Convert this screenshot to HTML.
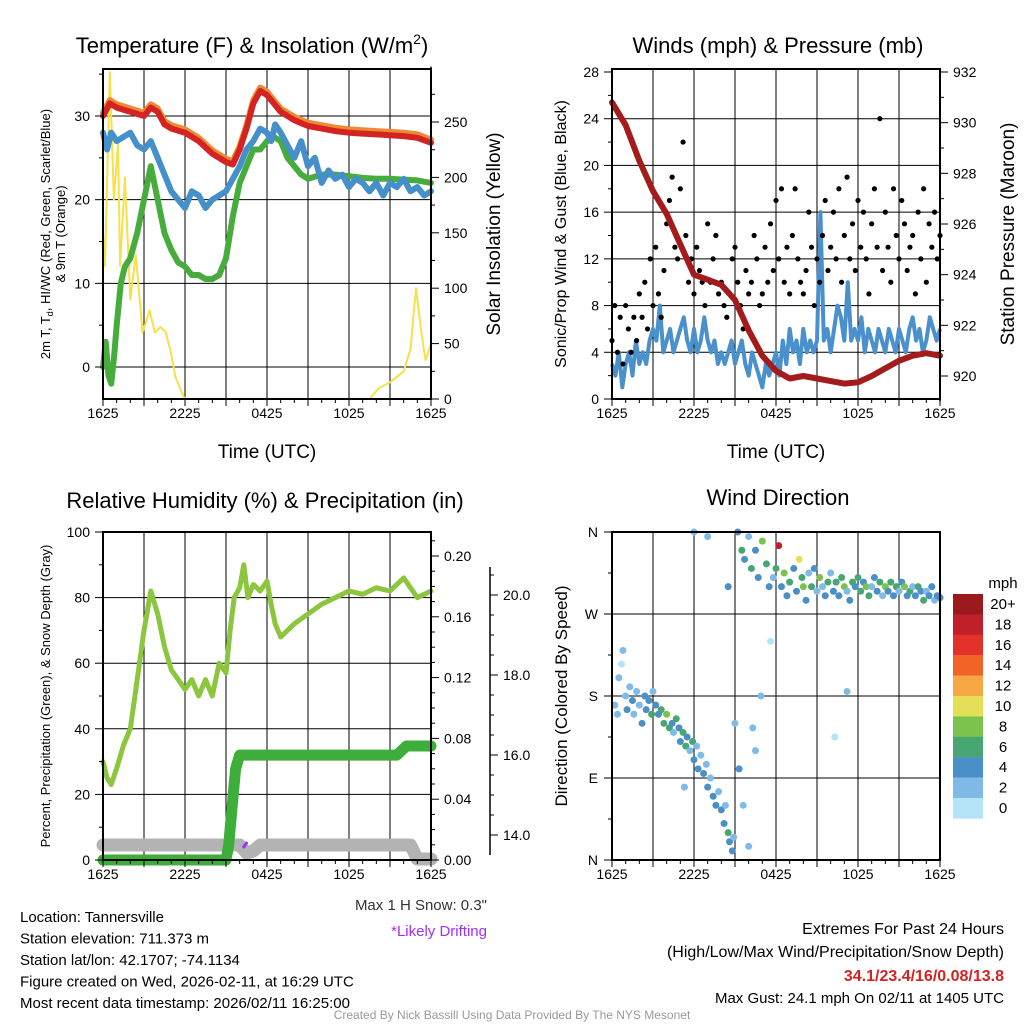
<!DOCTYPE html>
<html><head><meta charset="utf-8"><style>
body{margin:0;background:#fff}
svg{display:block;font-family:"Liberation Sans",Arial,sans-serif}
</style></head><body>
<svg id="s" width="1024" height="1024" viewBox="0 0 1024 1024" xmlns="http://www.w3.org/2000/svg">
<rect width="1024" height="1024" fill="#fff"/>
<g id="g"></g>
</svg>
<script>
// ---------- DATA ----------
const xTickLabels = ["1625","2225","0425","1025","1625"];
// Panel 1 (hours since 1625 UTC)
const tempT  = [0,0.5,1,2,3,3.5,4,4.5,5,6,7,8,9,9.5,10,10.5,11,11.5,12,12.5,13,14,15,16,17,18,19,20,21,22,23,24];
const tempV  = [30,31.5,31,30.5,30,31,30.5,29,28.5,28,27,25.5,24.5,24.2,26,28.5,31.5,33,32.5,31.5,30.5,29.5,28.8,28.5,28.2,28,27.9,27.8,27.7,27.6,27.4,26.8];
const wcT    = [0,0.3,0.6,1,1.5,2,2.5,3,3.5,4,4.5,5,5.5,6,6.5,7,7.5,8,8.5,9,9.5,10,10.5,11,11.5,12,12.3,12.6,13,13.5,14,14.5,15,15.5,16,16.5,17,17.5,18,18.5,19,19.5,20,20.5,21,21.5,22,22.5,23,23.5,24];
const wcV    = [28,26,28,27,27.5,28,26.5,26,27,25,23,21,20,19,21,20.5,19,20,20.5,21,22.5,24,26,27,28.5,28,27,29,28,26.5,25,27,24,25,22,23.5,22.5,23,21.5,22.5,22,21,22,20.5,22,21.5,22.5,21,21.5,20.5,21];
const tdT    = [0,0.2,0.4,0.6,0.8,1,1.3,1.6,2,2.5,3,3.5,4,4.5,5,5.5,6,6.5,7,7.5,8,8.5,9,9.5,10,10.5,11,11.5,12,12.5,13,13.5,14,14.5,15,16,17,18,19,20,21,22,23,24];
const tdV    = [0,3,-1,-2,1,5,10,12,13,16,20,24,20,16,14,12.5,12,11,11,10.5,10.5,11,13,18,22,24,26,26,27,27.5,27,25,24,23,22.5,23,23,22.8,22.6,22.5,22.5,22.4,22.3,22];
const solT   = [0,0.15,0.5,0.8,1.1,1.25,1.6,2.0,2.4,2.9,3.4,3.8,4.2,4.6,5.0,5.3,5.8,6.0,19.5,20.2,21.0,22.0,22.5,22.9,23.3,23.6,24];
const solV   = [150,120,295,180,230,120,200,90,130,60,80,60,65,60,40,20,5,0,0,10,15,25,45,100,60,35,50];
// Panel 2
const windV  = [3,2,4,1,3,4,2,5,3,4,3,5, 6,5,8,4,5,6,4,5,6,7,5,4, 6,4,5,7,5,4,5,3,4,3,4,5, 3,4,5,3,2,4,3,2,1,3,2,3, 4,2,5,3,6,4,5,3,6,4,5,4, 5,16,5,6,4,6,8,7,5,10,5,6, 5,7,4,6,5,4,6,5,4,6,5,4, 6,5,4,6,7,5,6,4,5,7,6,5, 6];
const gustV  = [5,8,4,7,3,8,6,4,7,5, 9,7,10,6,12,8,13,9,7,11, 15,17,19,13,12,18,22,14,10,12, 9,13,11,10,8,15,10,12,14,9, 10,8,7,9,12,13,10,8,6,11, 9,10,14,12,8,9,13,10,15,11, 17,12,18,10,13,9,14,18,12,10, 9,11,16,13,8,12,10,14,17,11, 13,16,12,18,10,14,19,12,15,11, 17,13,16,12,9,15,18,13,24,11, 16,13,10,18,14,12,17,15,11,13, 14,9,16,12,18,10,15,13,16,12, 14];
const presT  = [0,1,2,3,4,5,6,7,8,9,10,11,12,13,14,15,16,17,18,19,20,21,22,23,24];
const presV  = [930.8,929.9,928.5,927.3,926.4,925.2,924.0,923.8,923.6,923.0,921.8,920.8,920.2,919.9,920.0,919.9,919.8,919.7,919.75,920.0,920.3,920.6,920.8,920.9,920.8];
// Panel 3
const rhT    = [0,0.3,0.6,1,1.5,2,2.5,3,3.5,4,4.5,5,5.5,6,6.5,7,7.5,8,8.5,9,9.3,9.6,10,10.3,10.6,11,11.5,12,12.3,12.6,13,14,15,16,17,18,19,20,21,22,23,24];
const rhV    = [30,25,23,28,35,40,55,70,82,75,65,58,55,52,55,50,55,50,60,57,70,80,83,90,80,84,82,85,78,72,68,72,75,78,80,82,81,83,82,86,80,82];
const prT    = [0,9,9.2,9.5,9.7,10,21.5,22.2,24];
const prV    = [0,0,0.01,0.04,0.06,0.069,0.069,0.075,0.075];
const snT    = [0,10,10.5,11,11.5,22.5,23,24];
const snV    = [13.75,13.75,13.55,13.6,13.75,13.75,13.4,13.4];
// Panel 4
const dT = [0.2,0.4,0.5,0.7,0.8,1.0,1.1,1.3,1.5,1.6,1.8,2.0,2.2,2.4,2.5,2.7,2.9,3.0,3.2,3.4,3.6,3.8,4.0,4.2,4.4,4.5,4.7,4.9,5.0,5.2,5.4,5.5,5.7,5.9,6.0,6.2,6.3,6.5,6.7,6.9,7.0,7.2,7.4,7.6,7.8,8.0,8.2,8.3,8.5,8.6,8.8,8.9,5.3,6.0,7.0,8.5,9.0,9.2,9.5,9.7,10.0,10.2,10.5,10.7,10.9,11.0,11.3,11.5,11.8,12.0,12.2,12.4,12.6,12.8,13.0,13.3,13.5,13.7,13.9,14.0,14.2,14.4,14.6,14.8,15.0,15.2,15.4,15.6,15.8,16.0,16.2,16.4,16.6,16.8,17.0,17.2,17.4,17.6,17.8,18.0,18.2,18.4,18.6,18.8,19.0,19.2,19.4,19.6,19.8,20.0,20.2,20.4,20.6,20.8,21.0,21.2,21.4,21.6,21.8,22.0,22.2,22.4,22.6,22.8,23.0,23.2,23.4,23.6,23.8,24.0,17.2,16.3,11.6,10.3,10.5,9.6,10.0,9.3];
const dD = [170,160,200,215,230,180,165,190,175,160,185,170,150,180,165,175,160,185,170,160,165,150,160,145,150,140,155,145,130,140,125,135,120,130,110,125,100,115,95,105,80,90,70,60,75,55,40,60,30,20,10,25,80,360,355,300,150,360,340,330,355,320,340,310,180,350,325,300,310,320,345,300,315,290,305,320,295,330,310,300,285,315,300,320,295,310,300,290,305,315,295,305,290,310,300,295,285,305,300,310,295,305,300,290,300,310,295,305,290,300,295,305,290,300,295,305,300,290,295,300,290,300,295,285,295,290,300,285,290,288,185,135,240,145,120,60,15,100];
const dS = [3,2,3,1,2,3,4,3,4,3,2,3,4,5,4,5,6,3,4,5,7,6,8,6,5,3,6,5,4,6,7,4,3,6,4,3,4,2,4,3,4,3,5,4,3,4,4,3,6,4,5,3,2,3,2,4,3,4,6,4,2,6,5,4,3,8,6,4,3,6,18,5,8,4,6,5,4,10,6,8,4,3,6,4,3,8,2,4,6,3,5,7,4,6,8,3,5,7,4,6,7,4,8,6,3,5,4,6,3,8,5,7,4,6,3,5,8,4,6,3,5,7,4,6,3,5,4,3,5,4,3,1,1,2,3,3,2,4];
const speedLabels = ["20+","18","16","14","12","10","8","6","4","2","0"];
const speedColors = ["#b5e3f7","#7fbbe6","#4a8fc8","#48a672","#7cc24e","#e5df57","#f7a844","#f16428","#e2322a","#c0202a","#9a1a1e"];

// ---------- HELPERS ----------
const NS="http://www.w3.org/2000/svg";
const G=document.getElementById('g');
function mk(tag,attrs,parent){const e=document.createElementNS(NS,tag);for(const k in attrs)e.setAttribute(k,attrs[k]);(parent||G).appendChild(e);return e;}
function txt(s,x,y,size,anchor,parent,extra){const e=mk('text',Object.assign({x:x,y:y,'font-size':size,'text-anchor':anchor||'middle',fill:'#000'},extra||{}),parent);e.textContent=s;return e;}
function lin(d0,d1,r0,r1){return v=>r0+(v-d0)*(r1-r0)/(d1-d0);}
function pathOf(ts,vs,fx,fy){return ts.map((t,i)=>(i?'L':'M')+fx(t).toFixed(1)+','+fy(vs[i]).toFixed(1)).join('');}

function panel(name){
  const g=mk('g',{});
  
  
  return g;
}
function frame(g,x0,y0,x1,y1,hGrid,vGrid){
  const gg=mk('g',{stroke:'#000','stroke-width':1},g);
  
  
  hGrid.forEach(y=>mk('line',{x1:x0,x2:x1,y1:y,y2:y},gg));
  vGrid.forEach(x=>mk('line',{x1:x,x2:x,y1:y0,y2:y1},gg));
}
function border(g,x0,y0,x1,y1){
  const r=mk('rect',{x:x0,y:y0,width:x1-x0,height:y1-y0,fill:'none',stroke:'#000','stroke-width':2},g);
  
  
}
function xAxis(g,x0,x1,y1){
  const fx=lin(0,24,x0,x1);
  for(let h=0;h<=24;h++){const x=fx(h);mk('line',{x1:x,x2:x,y1:y1,y2:y1+(h%3==0?7:4),stroke:'#000','stroke-width':1},g);}
  xTickLabels.forEach((l,i)=>{const t=txt(l,fx(i*6),y1+19,14,'middle',g);
    
    });
}
function yTicks(g,x,vals,fy,labels,side,minor,fmt){
  const dir=side==='left'?-1:1;
  mk('line',{x1:x,x2:x,y1:fy(vals[0]),y2:fy(vals[vals.length-1]),stroke:'#000','stroke-width':1.5},g);
  (minor||[]).forEach(v=>mk('line',{x1:x,x2:x+dir*4,y1:fy(v),y2:fy(v),stroke:'#000','stroke-width':1},g));
  labels.forEach(v=>{const y=fy(v);mk('line',{x1:x,x2:x+dir*8,y1:y,y2:y,stroke:'#000','stroke-width':1},g);
    const t=txt(fmt?fmt(v):String(v),x+dir*13,y+5,14,side==='left'?'end':'start',g);
    
    });
}
function range(a,b,s){const r=[];for(let v=a;v<=b+1e-9;v+=s)r.push(+v.toFixed(4));return r;}

// ---------- PANEL 1 ----------
(function(){
  const x0=103,x1=431,y0=69,y1=399;
  const g=panel('temperature-panel');
  const fx=lin(0,24,x0,x1), fy=lin(0,30,367,116), fs=lin(0,250,399,122);
  frame(g,x0,y0,x1,y1,[0,10,20,30].map(fy),range(3,21,3).map(fx));
  const t=txt('Temperature (F) & Insolation (W/m',252,53,22,'middle',g);
  
  const sup=mk('tspan',{'font-size':14,dy:-9},t);sup.textContent='2';
  const cl=mk('tspan',{dy:9},t);cl.textContent=')';
  const p=(ts,vs,fyy,col,w,nm)=>{const e=mk('path',{d:pathOf(ts,vs,fx,fyy),fill:'none',stroke:col,'stroke-width':w,'stroke-linejoin':'round','stroke-linecap':'round'},g);
    };
  p(solT,solV,fs,'#f6e04b',2,'solar-insolation-line');
  p(tdT,tdV,fy,'#46ad3d',6,'dewpoint-line');
  p(tempT,tempV.map(v=>v+0.4),fy,'#f08a30',6,'9m-temperature-line');
  p(tempT,tempV,fy,'#d42323',6,'2m-temperature-line');
  p(wcT,wcV,fy,'#4590ca',6,'wind-chill-line');
  border(g,x0,y0,x1,y1);
  xAxis(g,x0,x1,y1);
  yTicks(g,x0,[-3.8,35.6],fy,[0,10,20,30],'left',[-5,5,15,25,35].filter(v=>v>-3.8));
  yTicks(g,x1,[0,300],fs,[0,50,100,150,200,250],'right',range(25,275,50));
  const a=txt('Time (UTC)',267,458,19,'middle',g);
  const l1=txt('2m T, T',0,0,13,'middle',g,{transform:'translate(50,234) rotate(-90)'});
  const sb=mk('tspan',{'font-size':9,dy:3},l1);sb.textContent='d';
  const sb2=mk('tspan',{dy:-3},l1);sb2.textContent=', HI/WC (Red, Green, Scarlet/Blue)';
  
  const l2=txt('& 9m T (Orange)',0,0,13,'middle',g,{transform:'translate(65,234) rotate(-90)'});
  
  const r=txt('Solar Insolation (Yellow)',0,0,19,'middle',g,{transform:'translate(500,234) rotate(-90)'});
  
})();

// ---------- PANEL 2 ----------
(function(){
  const x0=612,x1=940,y0=69,y1=399;
  const g=panel('winds-panel');
  const fx=lin(0,24,x0,x1), fy=lin(0,28,399,72), fp=lin(920,932,376,72);
  frame(g,x0,y0,x1,y1,range(4,24,4).map(fy),range(3,21,3).map(fx));
  const t=txt('Winds (mph) & Pressure (mb)',778,53,22,'middle',g);
  
  const wt=windV.map((v,i)=>i*0.25);
  const w=mk('path',{d:pathOf(wt,windV,fx,fy),fill:'none',stroke:'#4a90cd','stroke-width':4,'stroke-linejoin':'round'},g);
  
  gustV.forEach((v,i)=>{const c=mk('circle',{cx:fx(i*0.2),cy:fy(v),r:2.6,fill:'#000'},g);
    });
  const pr=mk('path',{d:pathOf(presT,presV,fx,fp),fill:'none',stroke:'#a41b1b','stroke-width':6,'stroke-linejoin':'round','stroke-linecap':'round'},g);
  
  border(g,x0,y0,x1,y1);
  xAxis(g,x0,x1,y1);
  yTicks(g,x0,[0,28],fy,range(0,28,4),'left',range(2,26,4));
  yTicks(g,x1,[919,932],fp,range(920,932,2),'right',range(921,931,2));
  const a=txt('Time (UTC)',776,458,19,'middle',g);
  const l=txt('Sonic/Prop Wind & Gust (Blue, Black)',0,0,16,'middle',g,{transform:'translate(566,234) rotate(-90)'});
  
  const r=txt('Station Pressure (Maroon)',0,0,19,'middle',g,{transform:'translate(1014,234) rotate(-90)'});
  
})();

// ---------- PANEL 3 ----------
(function(){
  const x0=103,x1=431,y0=532,y1=860;
  const g=panel('humidity-panel');
  const fx=lin(0,24,x0,x1), fy=lin(0,100,860,532), fpr=lin(0,0.2,860,556), fsn=lin(14,20,835,595);
  frame(g,x0,y0,x1,y1,range(20,80,20).map(fy),range(3,21,3).map(fx));
  const t=txt('Relative Humidity (%) & Precipitation (in)',265,508,22,'middle',g);
  
  const sn=mk('path',{d:pathOf(snT,snV,fx,fsn),fill:'none',stroke:'#b3b3b3','stroke-width':13,'stroke-linejoin':'round','stroke-linecap':'round'},g);
  
  const pr=mk('path',{d:pathOf(prT,prV,fx,fpr),fill:'none',stroke:'#3eae3a','stroke-width':11,'stroke-linejoin':'round','stroke-linecap':'round'},g);
  
  const rh=mk('path',{d:pathOf(rhT,rhV,fx,fy),fill:'none',stroke:'#8cc63f','stroke-width':5,'stroke-linejoin':'round','stroke-linecap':'round'},g);
  
  const pu=mk('line',{x1:fx(10.3),x2:fx(10.5),y1:fsn(13.7),y2:fsn(13.8),stroke:'#9b30ff','stroke-width':3,'stroke-linecap':'round'},g);
  
  border(g,x0,y0,x1,y1);
  xAxis(g,x0,x1,y1);
  yTicks(g,x0,[0,100],fy,range(0,100,20),'left',range(10,90,20));
  yTicks(g,x1,[0,0.216],fpr,range(0,0.2,0.04),'right',range(0.01,0.21,0.01).filter(v=>Math.round(v*100)%4),v=>v.toFixed(2));
  yTicks(g,490,[13.5,20.7],fsn,range(14,20,2),'right',range(14.5,20.5,0.5).filter(v=>v%2),v=>v.toFixed(1));
  const l=txt('Percent, Precipitation (Green), & Snow Depth (Gray)',0,0,13,'middle',g,{transform:'translate(50,696) rotate(-90)'});
  
  const m=txt('Max 1 H Snow: 0.3"',487,910,15,'end',g,{fill:'#333'});
  const d=txt('*Likely Drifting',487,936,15,'end',g,{fill:'#9b30ff'});
})();

// ---------- PANEL 4 ----------
(function(){
  const x0=612,x1=940,y0=532,y1=860;
  const g=panel('wind-direction-panel');
  const fx=lin(0,24,x0,x1), fy=lin(0,360,860,532);
  frame(g,x0,y0,x1,y1,[90,180,270].map(fy),range(3,21,3).map(fx));
  const t=txt('Wind Direction',778,505,22,'middle',g);
  
  dT.forEach((tt,i)=>{const b=Math.min(10,Math.floor(dS[i]/2));
    const c=mk('circle',{cx:fx(tt),cy:fy(dD[i]),r:3.5,fill:speedColors[b]},g);
    });
  border(g,x0,y0,x1,y1);
  xAxis(g,x0,x1,y1);
  const dl=['N','E','S','W','N'];
  mk('line',{x1:x0,x2:x0,y1:y0,y2:y1,stroke:'#000','stroke-width':1.5},g);
  range(0,360,45).forEach(v=>mk('line',{x1:x0,x2:x0-(v%90?4:8),y1:fy(v),y2:fy(v),stroke:'#000'},g));
  dl.forEach((s,i)=>{const e=txt(s,x0-14,fy(i*90)+5,14,'end',g);});
  const l=txt('Direction (Colored By Speed)',0,0,17,'middle',g,{transform:'translate(567,696) rotate(-90)'});
  
  const cb=mk('g',{},g);
  txt('mph',1003,588,15,'middle',cb);
  speedLabels.forEach((s,i)=>{mk('rect',{x:953,y:594+i*20.4,width:30,height:20.6,fill:speedColors[10-i]},cb);
    txt(s,1003,609+i*20.4,15,'middle',cb);});
})();

// ---------- FOOTER ----------
(function(){
  const g=mk('g',{});
  ['Location: Tannersville','Station elevation: 711.373 m','Station lat/lon: 42.1707; -74.1134','Figure created on Wed, 2026-02-11, at 16:29 UTC','Most recent data timestamp: 2026/02/11 16:25:00']
   .forEach((s,i)=>txt(s,20,922+i*21.5,15,'start',g));
  const e=mk('g',{});
  txt('Extremes For Past 24 Hours',1004,934,16,'end',e);
  txt('(High/Low/Max Wind/Precipitation/Snow Depth)',1004,957,16,'end',e);
  txt('34.1/23.4/16/0.08/13.8',1004,981,16,'end',e,{fill:'#d42323','font-weight':'bold'});
  txt('Max Gust: 24.1 mph On 02/11 at 1405 UTC',1004,1003,15,'end',e);
  const c=txt('Created By Nick Bassill Using Data Provided By The NYS Mesonet',512,1019,12,'middle',null,{fill:'#999'});
  
})();
</script>
</body></html>
